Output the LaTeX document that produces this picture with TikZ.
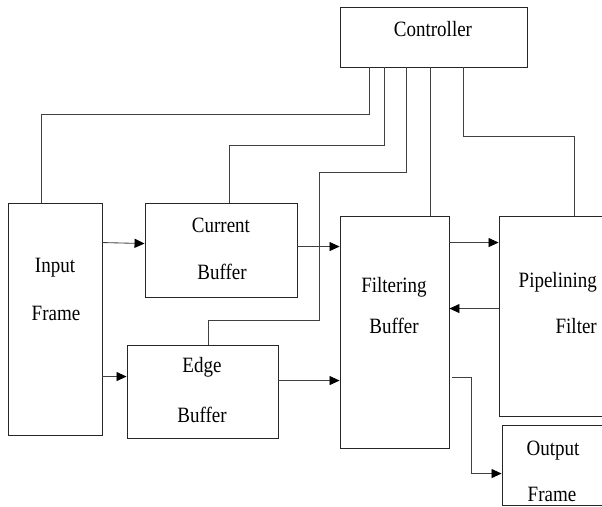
\documentclass[tikz,border=0pt]{standalone}
\usepackage{fontspec}
\setmainfont{Liberation Serif}
\newfontfamily\tmsfont{Liberation Serif}
\usetikzlibrary{arrows.meta}
\newcommand{\tx}[1]{\scalebox{1}[1.15]{#1}}
\begin{document}
\begin{tikzpicture}[x=1pt,y=-1pt,
  blk/.style={draw=black!85,line width=0.9pt,rectangle,inner sep=0pt},
  lbl/.style={inner sep=0pt,anchor=base,font=\tmsfont\fontsize{19}{22}\selectfont},
  wire/.style={draw=black!75,line width=0.85pt},
  arr/.style={wire,-{Triangle[length=10pt,width=9pt,color=black]}}]
\useasboundingbox (0,0) rectangle (602,506);
\clip (0,0) rectangle (602,506);
% boxes
\node[blk,minimum width=187pt,minimum height=60pt] (ctrl) at (433.5,37) {};
\node[blk,minimum width=94pt,minimum height=232pt] (inp) at (55,319) {};
\node[blk,minimum width=152pt,minimum height=94pt] (cur) at (221,250) {};
\node[blk,minimum width=151pt,minimum height=93pt] (edge) at (202.5,391.5) {};
\node[blk,minimum width=109pt,minimum height=232pt] (filt) at (394.5,332) {};
\node[blk,minimum width=113pt,minimum height=200pt] (pipe) at (555.5,316) {};
\node[blk,minimum width=103pt,minimum height=80pt] (out) at (553.5,465) {};
% labels
\node[lbl] (tctrl) at (433,36) {\tx{Controller}};
\node[lbl] (tinp1) at (55,272) {\tx{Input}};
\node[lbl] (tinp2) at (56,320) {\tx{Frame}};
\node[lbl] (tcur1) at (221,232) {\tx{Current}};
\node[lbl] (tcur2) at (222,279) {\tx{Buffer}};
\node[lbl] (tedg1) at (202,372) {\tx{Edge}};
\node[lbl] (tedg2) at (202,422) {\tx{Buffer}};
\node[lbl] (tfil1) at (394,292) {\tx{Filtering}};
\node[lbl] (tfil2) at (394,333) {\tx{Buffer}};
\node[lbl,anchor=base east] (tpip1) at (597,287) {\tx{Pipelining}};
\node[lbl,anchor=base east] (tpip2) at (597,333) {\tx{Filter}};
\node[lbl] (tout1) at (553,455) {\tx{Output}};
\node[lbl] (tout2) at (552,501) {\tx{Frame}};
% controller wires
\draw[wire] ([xshift=30]ctrl.south west) -- ++(0,47) -| ([xshift=34]inp.north west);
\draw[wire] ([xshift=45]ctrl.south west) -- ++(0,78) -| ([xshift=85]cur.north west);
\draw[wire] ([xshift=67]ctrl.south west) -- ++(0,105) -| ++(-87,148) -| ([xshift=82]edge.north west);
\draw[wire] ([xshift=35.5]filt.north) -- ++(0,-149);
\draw[wire] ([xshift=124]ctrl.south west) -- ++(0,69) -| ([xshift=76]pipe.north west);
% data arrows
\draw[arr] ([yshift=-40]inp.north east) -- ([yshift=-41]cur.north west);
\draw[arr] ([yshift=-174]inp.north east) -- ([yshift=-32]edge.north west);
\draw[arr] ([yshift=-44]cur.north east) -- ([yshift=-31]filt.north west);
\draw[arr] ([yshift=-36]edge.north east) -- ([yshift=-165]filt.north west);
\draw[arr] ([yshift=-27]filt.north east) -- ([yshift=-27]pipe.north west);
\draw[arr] ([yshift=-93]pipe.north west) -- ([yshift=-93]filt.north east);
\draw[arr] ([xshift=3,yshift=-162]filt.north east) -- ++(19,0) |- ([yshift=-49]out.north west);
\end{tikzpicture}
\end{document}
